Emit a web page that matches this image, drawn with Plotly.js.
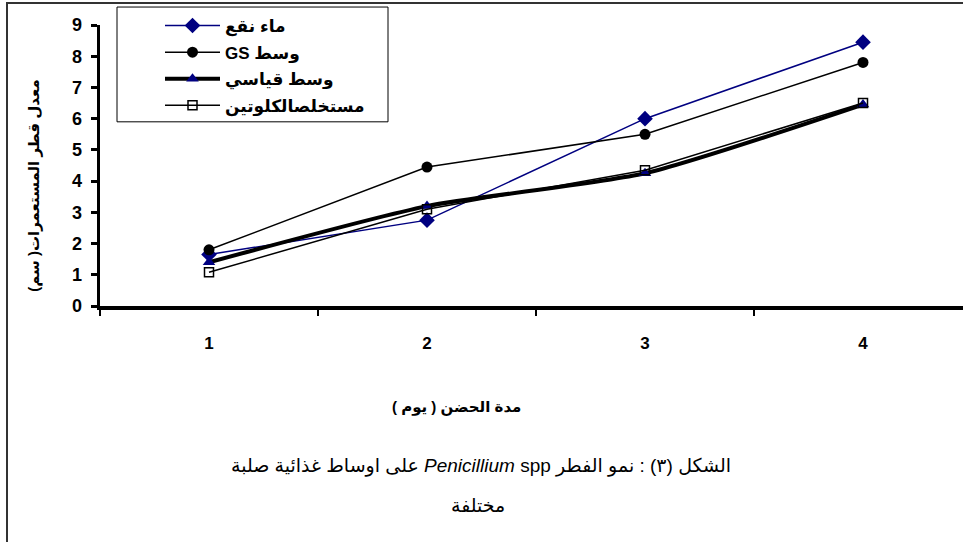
<!DOCTYPE html>
<html>
<head>
<meta charset="utf-8">
<script src="https://cdn.plot.ly/plotly-3.0.1.min.js"></script>
<style>body{margin:0;background:#fff}</style>
</head>
<body>
<div id="chart" style="width:963px;height:542px"></div>
<script>
const RLE = '\u202B', PDF = '\u202C';
const days = [1, 2, 3, 4];
const xTickLabels = ['1', '2', '3', '4'];
const seriesNames = ['ماء نقع', 'وسط GS', 'وسط قياسي', 'مستخلصالكلوتين'];
const soakWater = [1.65, 2.75, 6.0, 8.45];
const gsMedium = [1.8, 4.45, 5.5, 7.8];
const standardMedium = [1.4, 3.2, 4.25, 6.45];
const extractMedium = [1.08, 3.1, 4.35, 6.5];
const yTitle = 'معدل قطر المستعمرات( سم)';
const xTitle = 'مدة الحضن ( يوم )';
const captionLine1 = 'الشكل (٣) : نمو الفطر <i>Penicillium</i> spp على اوساط غذائية صلبة';
const captionLine2 = 'مختلفة';

const FONT = 'Liberation Sans, Arial, DejaVu Sans, sans-serif';
const rtl = s => RLE + s + PDF;

const traces = [
  {x: days, y: soakWater, name: rtl(seriesNames[0]), mode: 'lines+markers',
   line: {color: '#000080', width: 1.5}, legendgroup: 'a',
   marker: {symbol: 'diamond', size: 12, color: '#000080'}},
  {x: days, y: gsMedium, name: rtl(seriesNames[1]), mode: 'lines+markers',
   line: {color: '#000000', width: 1.5}, legendgroup: 'b',
   marker: {symbol: 'circle', size: 11, color: '#000000'}},
  {x: days, y: standardMedium, name: rtl(seriesNames[2]), mode: 'lines+markers',
   line: {color: '#000000', width: 4, shape: 'spline', smoothing: 0.6}, legendgroup: 'c',
   marker: {symbol: 'triangle-up', size: 11, color: '#000080'}},
  {x: days, y: extractMedium, name: rtl(seriesNames[3]), mode: 'lines+markers',
   line: {color: '#000000', width: 1.5}, legendgroup: 'd',
   marker: {symbol: 'square-open', size: 9, color: '#000000', line: {width: 1.5}}}
];

const L = 100, T = 25, B = 235.5, W = 963, H = 542;
const pw = W - L, ph = H - T - B;
const px = v => (v - L) / pw;
const py = v => (H - B - v) / ph;

const layout = {
  width: W, height: H,
  margin: {l: L, r: 0, t: T, b: B, pad: 0, autoexpand: false},
  paper_bgcolor: '#ffffff', plot_bgcolor: '#ffffff',
  font: {family: FONT, color: '#000'},
  showlegend: true,
  legend: {
    xref: 'container', yref: 'container',
    x: 160 / W, y: 1 - 8 / H, xanchor: 'left', yanchor: 'top',
    itemwidth: 55, traceorder: 'grouped', tracegroupgap: 1.5,
    bgcolor: 'rgba(0,0,0,0)', borderwidth: 0,
    font: {family: FONT, size: 17, weight: 'bold', color: '#000'}
  },
  xaxis: {
    range: [0.5, 0.5 + pw / 218], tickvals: days, ticktext: xTickLabels,
    ticks: '', showgrid: false, zeroline: false,
    showline: true, linecolor: '#000', linewidth: 3.5,
    ticklabelstandoff: 19,
    tickfont: {family: FONT, size: 17, weight: 'bold', color: '#000'},
    minor: {ticks: 'outside', tick0: 0.5, dtick: 1, ticklen: 6, tickwidth: 2, tickcolor: '#000', showgrid: false},
    automargin: false, fixedrange: true
  },
  yaxis: {
    range: [0, 9], tickvals: [0,1,2,3,4,5,6,7,8,9],
    ticks: 'outside', ticklen: 6, tickwidth: 3, tickcolor: '#000',
    showgrid: false, zeroline: false,
    showline: true, linecolor: '#000', linewidth: 3.5,
    ticklabelstandoff: 5,
    tickfont: {family: FONT, size: 18, weight: 'bold', color: '#000'},
    automargin: false, fixedrange: true
  },
  shapes: [
    {type: 'rect', xref: 'paper', yref: 'paper',
     x0: px(7), x1: px(975), y0: py(560), y1: py(3),
     line: {color: '#333', width: 2}, fillcolor: 'rgba(0,0,0,0)', layer: 'below'},
    {type: 'rect', xref: 'paper', yref: 'paper',
     x0: px(117), x1: px(388), y0: py(122), y1: py(7),
     line: {color: '#000', width: 1}, fillcolor: '#ffffff', layer: 'below'}
  ],
  annotations: [
    {xref: 'paper', yref: 'paper', x: px(23), y: py(186), showarrow: false, textangle: -90,
     text: rtl(yTitle), font: {family: FONT, size: 15, weight: 'bold', color: '#000'}},
    {xref: 'paper', yref: 'paper', x: px(456), y: py(419), showarrow: false,
     text: rtl(xTitle), font: {family: FONT, size: 15, weight: 'bold', color: '#000'}},
    {xref: 'paper', yref: 'paper', x: px(481), y: py(480), showarrow: false,
     text: rtl(captionLine1), font: {family: FONT, size: 19, color: '#000'}},
    {xref: 'paper', yref: 'paper', x: px(478), y: py(519), showarrow: false,
     text: rtl(captionLine2), font: {family: FONT, size: 19, color: '#000'}}
  ]
};

Plotly.newPlot('chart', traces, layout, {displayModeBar: false, staticPlot: true});
</script>
</body>
</html>
